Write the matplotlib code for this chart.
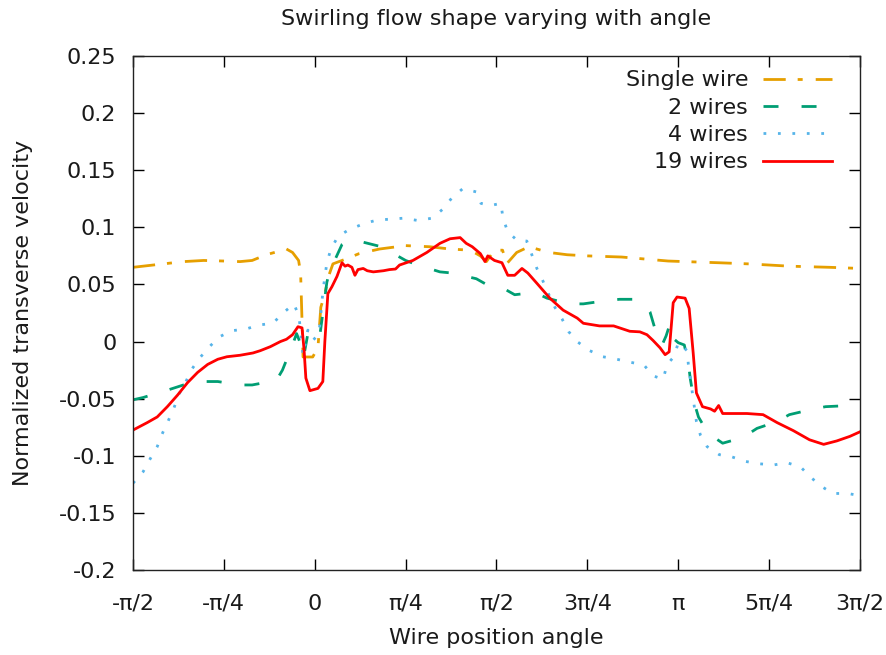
import numpy as np
import matplotlib
matplotlib.use("Agg")
import matplotlib.pyplot as plt

# ---------------- data (angle in degrees, normalized transverse velocity) ----------------
single_deg = [-90, -80, -65, -55, -45, -37, -31, -24, -18, -15, -11, -8, -7, -6.5, -6, -5.8,
              -1, 1.6, 3, 5, 7, 9, 15, 22, 32, 45, 57, 67, 77, 82, 85, 89, 93, 95, 100, 106,
              116, 125, 135, 152, 175, 200, 215, 235, 255, 270]
single_val = [0.065, 0.067, 0.070, 0.071, 0.0705, 0.070, 0.071, 0.076, 0.079, 0.082, 0.078,
              0.071, 0.060, 0.030, 0.000, -0.0135, -0.0135, -0.005, 0.030, 0.042, 0.058, 0.068,
              0.072, 0.077, 0.081, 0.084, 0.083, 0.081, 0.080, 0.075, 0.070, 0.080, 0.080, 0.068,
              0.078, 0.083, 0.078, 0.076, 0.075, 0.074, 0.0705, 0.069, 0.068, 0.066, 0.065, 0.064]

two_deg = [-90, -85, -72, -65, -55, -48, -37, -31, -19, -16, -11, -9, -7, -5.5, -3.5, -0.5,
           2.5, 4, 6, 7.5, 13.5, 16.5, 24, 33, 45, 51, 62, 68, 80, 85, 93, 99, 109, 115, 126,
           133, 145, 151, 158, 162, 166, 169.5, 172, 174, 176, 178, 180, 183, 185, 186, 188,
           190, 193, 197, 202, 212, 219, 229, 235, 247, 253, 265, 270]
two_val = [-0.051, -0.049, -0.042, -0.038, -0.035, -0.035, -0.038, -0.038, -0.034, -0.025,
           -0.003, 0.007, -0.002, -0.0135, 0.006, 0.000, 0.005, 0.025, 0.052, 0.062, 0.085,
           0.089, 0.087, 0.083, 0.071, 0.067, 0.061, 0.060, 0.055, 0.050, 0.047, 0.041, 0.043,
           0.038, 0.033, 0.033, 0.036, 0.037, 0.037, 0.035, 0.026, 0.005, -0.003, 0.005, 0.016,
           0.002, -0.001, -0.003, -0.019, -0.033, -0.054, -0.066, -0.075, -0.083, -0.089,
           -0.084, -0.076, -0.070, -0.064, -0.059, -0.057, -0.056, -0.054]

four_deg = [-90, -85, -81.6, -78, -75.6, -72.7, -69.7, -67.2, -63.8, -60.8, -56.8, -52.4,
            -47.4, -41, -34, -27.6, -20.7, -15.7, -10.3, -7.8, -5.8, -3.4, -0.9, 2.1, 4.1, 6,
            8, 11.5, 17, 24, 30, 36, 44, 51, 58, 63.5, 68, 73.4, 80, 82.3, 86.7, 92.2, 93.2,
            95.6, 100.6, 105, 107.5, 110, 113, 115.4, 118.9, 122.4, 125.8, 130.3, 136.2, 142.7,
            149.6, 156, 163, 167.5, 172.5, 174.5, 178, 180, 184.4, 185, 187, 189, 191, 194.3,
            200.3, 206.6, 213.5, 220, 227.4, 233.8, 240.7, 245.7, 251.1, 256.5, 264, 270]
four_val = [-0.124, -0.114, -0.103, -0.092, -0.081, -0.070, -0.058, -0.046, -0.035, -0.024,
            -0.014, -0.005, 0.004, 0.0095, 0.011, 0.0145, 0.016, 0.025, 0.033, 0.022, -0.012,
            0.010, 0.001, 0.007, 0.045, 0.069, 0.081, 0.092, 0.098, 0.103, 0.106, 0.107, 0.108,
            0.106, 0.108, 0.116, 0.126, 0.134, 0.131, 0.121, 0.119, 0.121, 0.108, 0.096, 0.088,
            0.088, 0.076, 0.064, 0.053, 0.043, 0.030, 0.020, 0.0085, -0.0005, -0.008, -0.0133,
            -0.0155, -0.018, -0.0205, -0.030, -0.033, -0.020, -0.013, -0.001, -0.008, -0.020,
            -0.045, -0.070, -0.082, -0.092, -0.099, -0.101, -0.105, -0.107, -0.108, -0.106,
            -0.110, -0.119, -0.127, -0.133, -0.133, -0.135]

nineteen_deg = [-90, -83, -78, -73, -68, -63, -58, -53, -48, -43.5, -37, -30.6, -27, -22, -17,
                -14, -11, -8.3, -6.3, -5.3, -4.4, -2.4, 1.6, 4, 5, 6.5, 8.5, 11, 13.5, 15, 16.4,
                18.4, 19.9, 21.4, 24, 26, 29, 34, 37, 40, 42, 48.6, 55.5, 62, 67, 72, 75, 78,
                82, 84.3, 85.7, 89, 92.7, 95.6, 99, 102.6, 105.5, 110, 116.4, 123, 130, 133,
                141, 148, 152.6, 156, 161, 164.5, 167.5, 171, 173.5, 175.5, 177.5, 179.4, 183.4,
                185.4, 187.4, 189, 192, 196, 198, 200, 202, 207, 214, 222, 229, 237, 245, 252,
                258.5, 265, 270]
nineteen_val = [-0.0775, -0.071, -0.066, -0.057, -0.047, -0.036, -0.027, -0.020, -0.0155,
                -0.0133, -0.012, -0.010, -0.008, -0.0045, 0.000, 0.002, 0.006, 0.013, 0.012,
                -0.007, -0.032, -0.043, -0.041, -0.035, 0.000, 0.042, 0.048, 0.057, 0.069, 0.066,
                0.067, 0.065, 0.058, 0.063, 0.064, 0.062, 0.061, 0.062, 0.063, 0.0635, 0.067,
                0.071, 0.078, 0.086, 0.090, 0.091, 0.086, 0.083, 0.077, 0.070, 0.075, 0.071,
                0.069, 0.058, 0.058, 0.064, 0.060, 0.051, 0.038, 0.0275, 0.0205, 0.016, 0.0137,
                0.0137, 0.011, 0.009, 0.0085, 0.006, 0.001, -0.0055, -0.0115, -0.009, 0.034,
                0.039, 0.038, 0.029, -0.010, -0.045, -0.057, -0.059, -0.061, -0.056, -0.063,
                -0.063, -0.063, -0.064, -0.071, -0.078, -0.086, -0.090, -0.087, -0.083, -0.079]

labels = ["Single wire", "2 wires", "4 wires", "19 wires"]
xtick_labels = ["-π/2", "-π/4", "0", "π/4", "π/2", "3π/4", "π", "5π/4", "3π/2"]
ytick_values = [0.25, 0.2, 0.15, 0.1, 0.05, 0, -0.05, -0.1, -0.15, -0.2]
ytick_labels = ["0.25", "0.2", "0.15", "0.1", "0.05", "0", "-0.05", "-0.1", "-0.15", "-0.2"]

# ---------------- figure ----------------
plt.rcParams['font.family'] = ['DejaVu Sans']
FS = 16
fig = plt.figure(figsize=(8.87, 6.55), dpi=100)
ax = fig.add_axes([133 / 887, 85 / 655, 727 / 887, 514 / 655])

lw = 2.0
ax.plot(np.deg2rad(single_deg), single_val, color="#E69F00", lw=lw,
        dashes=(8, 4.3, 1.8, 4.7), label=labels[0])
ax.plot(np.deg2rad(two_deg), two_val, color="#009E73", lw=lw,
        dashes=(5.4, 8.3), label=labels[1])
ax.plot(np.deg2rad(four_deg), four_val, color="#56B4E9", lw=lw,
        dashes=(1.0, 4.2), label=labels[2])
ax.plot(np.deg2rad(nineteen_deg), nineteen_val, color="#FF0000", lw=lw, label=labels[3])

ax.set_xlim(-np.pi / 2, 3 * np.pi / 2)
ax.set_ylim(-0.2, 0.25)
ax.set_xticks(np.arange(-2, 7) * np.pi / 4)
ax.set_xticklabels(xtick_labels)
ax.set_yticks(ytick_values)
ax.set_yticklabels(ytick_labels)

ax.tick_params(direction="in", length=8, width=1, top=True, right=True,
               labelsize=FS, colors="black", labelcolor="#1a1a1a")
ax.tick_params(axis="x", pad=17)
ax.tick_params(axis="y", pad=12)
for s in ax.spines.values():
    s.set_linewidth(1)
    s.set_color("#222222")

ax.set_title("Swirling flow shape varying with angle", fontsize=FS, pad=22.5, color="#1a1a1a")
ax.set_xlabel("Wire position angle", fontsize=FS, labelpad=10, color="#1a1a1a")
ax.set_ylabel("Normalized transverse velocity", fontsize=FS, labelpad=18, color="#1a1a1a")

leg = ax.legend(loc="upper right", bbox_to_anchor=(0.9615, 0.972), frameon=False,
                markerfirst=False, fontsize=FS, handlelength=3.1, handletextpad=0.68,
                labelspacing=0.33, borderpad=0, borderaxespad=0)
for t in leg.get_texts():
    t.set_color("#1a1a1a")

fig.savefig("out.png", dpi=100)
